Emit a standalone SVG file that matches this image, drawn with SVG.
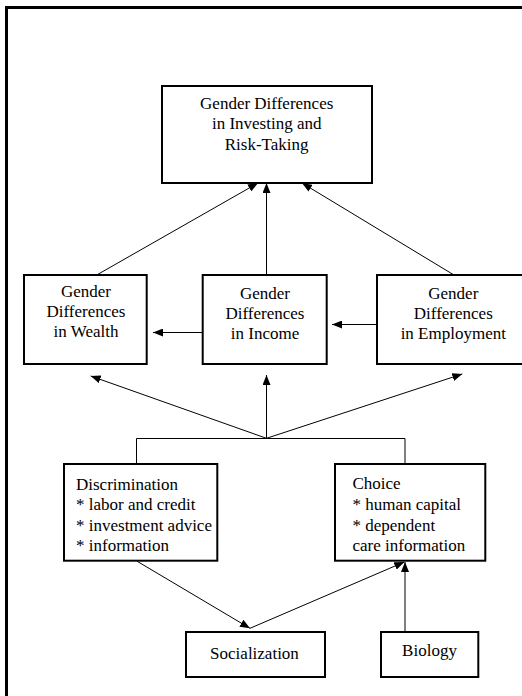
<svg xmlns="http://www.w3.org/2000/svg" width="522" height="696" viewBox="0 0 522 696">
<style>
.box{fill:#fff;stroke:#000;stroke-width:2}
text{font-family:'Liberation Serif','DejaVu Serif',serif;font-size:17px;fill:#000}
.c{text-anchor:middle}
.ln{fill:none;stroke:#000;stroke-width:1}
</style>
<defs>
<marker id="ah" viewBox="0 0 10 8" refX="10" refY="4" markerWidth="10" markerHeight="8" markerUnits="userSpaceOnUse" orient="auto">
<path d="M0,0 L10,4 L0,8 Z" fill="#000"/>
</marker>
</defs>
<rect width="522" height="696" fill="#fff"/>
<path d="M6.5,696 V7.5 H522" fill="none" stroke="#000" stroke-width="3"/>
<g id="connectors">
<line class="ln" x1="96.7" y1="275" x2="258" y2="183" marker-end="url(#ah)"/>
<line class="ln" x1="266.5" y1="275" x2="266.5" y2="183" marker-end="url(#ah)"/>
<line class="ln" x1="454" y1="275" x2="302" y2="183" marker-end="url(#ah)"/>
<line class="ln" x1="202.7" y1="332.5" x2="153" y2="332.5" marker-end="url(#ah)"/>
<line class="ln" x1="377" y1="324.5" x2="332" y2="324.5" marker-end="url(#ah)"/>
<line class="ln" x1="266.5" y1="438.3" x2="90.7" y2="376" marker-end="url(#ah)"/>
<line class="ln" x1="266.5" y1="438.3" x2="266.5" y2="375" marker-end="url(#ah)"/>
<line class="ln" x1="266.5" y1="438.3" x2="462.3" y2="374" marker-end="url(#ah)"/>
<polyline class="ln" points="136.5,464 136.5,438.5 405,438.5 405,464"/>
<line class="ln" x1="136.7" y1="561" x2="250" y2="628.3" marker-end="url(#ah)"/>
<line class="ln" x1="250" y1="628.3" x2="404.3" y2="562" marker-end="url(#ah)"/>
<line class="ln" x1="405" y1="631" x2="405" y2="562" marker-end="url(#ah)"/>
</g>
<g id="node-top" font-family="Liberation Serif, serif">
<rect class="box" x="162" y="86" width="210" height="97"/>
<text class="c" x="266.7" y="108.5">Gender Differences</text>
<text class="c" x="266.7" y="129">in Investing and</text>
<text class="c" x="266.7" y="149.5">Risk-Taking</text>
</g>
<g id="node-wealth">
<rect class="box" x="24" y="275" width="122.7" height="89"/>
<text class="c" x="86" y="296.7">Gender</text>
<text class="c" x="86" y="316.7">Differences</text>
<text class="c" x="86" y="336.5">in Wealth</text>
</g>
<g id="node-income">
<rect class="box" x="202.7" y="275" width="124" height="89"/>
<text class="c" x="265" y="299.3">Gender</text>
<text class="c" x="265" y="319.3">Differences</text>
<text class="c" x="265" y="339.3">in Income</text>
</g>
<g id="node-employment">
<rect class="box" x="377" y="275" width="150" height="89"/>
<text class="c" x="453.3" y="299">Gender</text>
<text class="c" x="453.3" y="319">Differences</text>
<text class="c" x="453.3" y="339">in Employment</text>
</g>
<g id="node-discrimination">
<rect class="box" x="64" y="464" width="153.3" height="96.7"/>
<text x="76" y="489.5">Discrimination</text>
<text x="76" y="510.3">* labor and credit</text>
<text x="76" y="531">* investment advice</text>
<text x="76" y="551">* information</text>
</g>
<g id="node-choice">
<rect class="box" x="335" y="464" width="150.3" height="96.7"/>
<text x="352.5" y="489.3">Choice</text>
<text x="352.5" y="510">* human capital</text>
<text x="352.5" y="530.7">* dependent</text>
<text x="352.5" y="551.3">care information</text>
</g>
<g id="node-socialization">
<rect class="box" x="186" y="632" width="139" height="45"/>
<text class="c" x="254.5" y="659">Socialization</text>
</g>
<g id="node-biology">
<rect class="box" x="381" y="632" width="97.3" height="45"/>
<text class="c" x="429.5" y="655.7">Biology</text>
</g>
</svg>
